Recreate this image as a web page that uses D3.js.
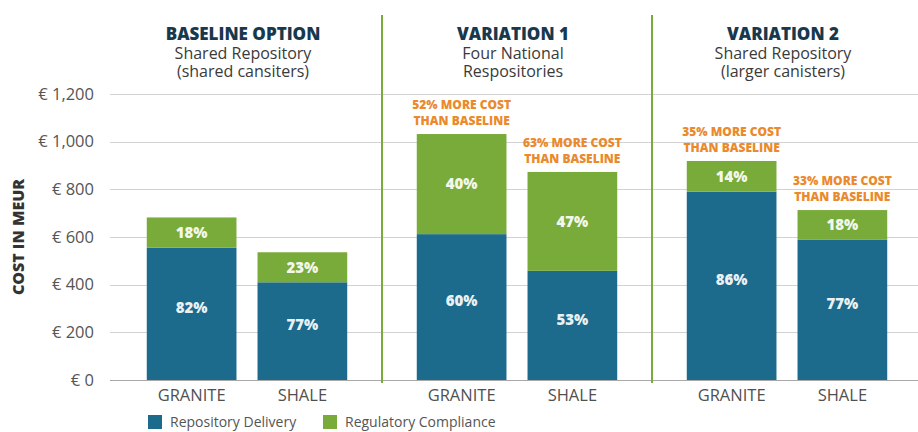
<!DOCTYPE html>
<html><head><meta charset="utf-8">
<script src="https://cdn.jsdelivr.net/npm/d3@7"></script>
<style>body{margin:0;background:#fff}svg{display:block}</style>
</head><body><svg id="chart" width="918" height="432"></svg>
<script>
const groups = ["BASELINE OPTION", "VARIATION 1", "VARIATION 2"];
const subtitleLine1 = ["Shared Repository", "Four National", "Shared Repository"];
const subtitleLine2 = ["(shared cansiters)", "Respositories", "(larger canisters)"];
const rocks = ["GRANITE", "SHALE"];
const delivery = [555, 410, 612, 458, 790, 588];
const compliance = [127, 126, 420, 415, 129, 125];
const deliveryPct = ["82%", "77%", "60%", "53%", "86%", "77%"];
const compliancePct = ["18%", "23%", "40%", "47%", "14%", "18%"];
const moreCost = [null, null, "52%", "63%", "35%", "33%"];
const yTicks = [0, 200, 400, 600, 800, 1000, 1200];
const seriesKeys = ["delivery", "compliance"];
const seriesNames = ["Repository Delivery", "Regulatory Compliance"];
const seriesColors = ["#1c6b8d", "#79ab3b"];

const rows = delivery.map((d, i) => ({
  group: groups[Math.floor(i / 2)], rock: rocks[i % 2],
  delivery: d, compliance: compliance[i],
  dPct: deliveryPct[i], cPct: compliancePct[i], more: moreCost[i]
}));

const svg = d3.select("#chart");
const FONT = "'Open Sans', sans-serif";
const y = d3.scaleLinear().domain([0, 1200]).range([380, 94]);
const x0 = d3.scaleBand().domain(groups).range([112, 922]);
const x1 = d3.scaleBand().domain(rocks).range([0, x0.bandwidth()]).paddingInner(0.19).paddingOuter(0.314);
const color = d3.scaleOrdinal().domain(seriesKeys).range(seriesColors);

// gridlines
svg.append("g").selectAll("line").data(yTicks).join("line")
  .attr("x1", 110).attr("x2", 918)
  .attr("y1", d => Math.round(y(d)) + 0.5).attr("y2", d => Math.round(y(d)) + 0.5)
  .attr("stroke", d => d === 0 ? "#a8a8a8" : "#d2d2d2").attr("stroke-width", 1);

// y axis labels
const yAxis = d3.axisLeft(y).tickValues(yTicks).tickSize(0).tickPadding(0)
  .tickFormat(d => "€ " + d3.format(",")(d));
svg.append("g").attr("transform", "translate(94,0)").call(yAxis)
  .call(g => g.select(".domain").remove())
  .call(g => g.selectAll("text").attr("font-family", FONT).attr("font-size", 16.5).attr("fill", "#555"));

svg.append("text").attr("transform", "translate(24,237) rotate(-90)")
  .attr("text-anchor", "middle").attr("font-family", FONT).attr("font-weight", 800)
  .attr("font-size", 16).attr("fill", "#333").text("COST IN MEUR");

// dividers
svg.append("g").selectAll("line").data(groups.slice(1)).join("line")
  .attr("x1", d => x0(d)).attr("x2", d => x0(d)).attr("y1", 15).attr("y2", 383)
  .attr("stroke", "#79ab3b").attr("stroke-width", 2);

// bars
const stacked = d3.stack().keys(seriesKeys)(rows);
const gx = r => x0(r.group) + x1(r.rock);
svg.append("g").selectAll("g").data(stacked).join("g").attr("fill", s => color(s.key))
  .selectAll("rect").data(s => s).join("rect")
  .attr("x", d => gx(d.data)).attr("width", x1.bandwidth())
  .attr("y", d => y(d[1])).attr("height", d => y(d[0]) - y(d[1]));

// percent labels
const lab = svg.append("g").attr("font-family", FONT).attr("font-weight", 800)
  .attr("font-size", 15).attr("fill", "#fff").attr("fill-opacity", 0.92).attr("text-anchor", "middle");
lab.selectAll("text.d").data(stacked[0]).join("text").attr("class", "d")
  .attr("x", d => gx(d.data) + x1.bandwidth() / 2)
  .attr("y", d => (y(d[0]) + y(d[1])) / 2 - 6).attr("dy", "0.35em").text(d => d.data.dPct);
lab.selectAll("text.c").data(stacked[1]).join("text").attr("class", "c")
  .attr("x", d => gx(d.data) + x1.bandwidth() / 2)
  .attr("y", d => (y(d[0]) + y(d[1])) / 2).attr("dy", "0.35em").text(d => d.data.cPct);

// annotations
const ann = svg.append("g").attr("font-family", FONT).attr("font-weight", 800)
  .attr("font-size", 12).attr("fill", "#ea8a2c").attr("text-anchor", "middle");
stacked[1].filter(d => d.data.more).forEach(d => {
  const cx = gx(d.data) + x1.bandwidth() / 2, top = y(d[1]);
  ann.append("text").attr("x", cx).attr("y", top - 25).text(d.data.more + " MORE COST");
  ann.append("text").attr("x", cx).attr("y", top - 9).text("THAN BASELINE");
});

// x labels
svg.append("g").selectAll("text").data(rows).join("text")
  .attr("x", r => gx(r) + x1.bandwidth() / 2).attr("y", 401).attr("text-anchor", "middle")
  .attr("font-family", FONT).attr("font-size", 16.5).attr("fill", "#505050").text(r => r.rock);

// headers
const hdr = svg.append("g").attr("font-family", FONT).attr("text-anchor", "middle");
groups.forEach((g, i) => {
  const cx = x0(g) + x0.bandwidth() / 2 - 4;
  hdr.append("text").attr("x", cx).attr("y", 40).attr("font-weight", 800).attr("font-size", 17)
    .attr("fill", "#17384d").text(g);
  hdr.append("text").attr("x", cx).attr("y", 59).attr("font-size", 16).attr("fill", "#3a3a3a").text(subtitleLine1[i]);
  hdr.append("text").attr("x", cx).attr("y", 77).attr("font-size", 16).attr("fill", "#3a3a3a").text(subtitleLine2[i]);
});

// legend
const leg = svg.append("g").attr("font-family", FONT).attr("font-size", 14).attr("fill", "#555");
const legX = [148, 323];
seriesNames.forEach((n, i) => {
  leg.append("rect").attr("x", legX[i]).attr("y", 415).attr("width", 14).attr("height", 14).attr("fill", seriesColors[i]);
  leg.append("text").attr("x", legX[i] + 22).attr("y", 427).text(n);
});
</script></body></html>
